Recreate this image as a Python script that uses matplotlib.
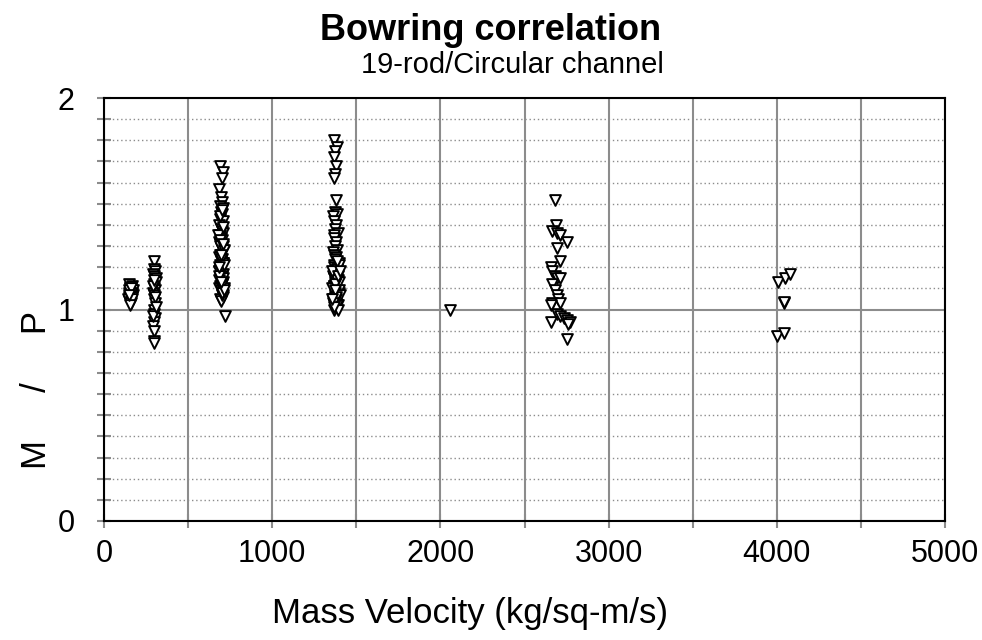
import matplotlib
matplotlib.use("Agg")
import matplotlib.pyplot as plt
from matplotlib.ticker import MultipleLocator

plt.rcParams['font.family'] = ['Liberation Sans', 'DejaVu Sans']

# mass velocity (kg/sq-m/s) and measured/predicted ratio
g1 = [150, 155, 160, 165, 170, 150, 160, 155, 165, 170, 160, 150, 158, 162, 168, 155, 150, 165,
      145, 152, 158, 163, 148, 157, 166, 153, 161, 147]
mp1 = [1.12, 1.10, 1.09, 1.08, 1.07, 1.06, 1.05, 1.04, 1.11, 1.09, 1.06, 1.08, 1.03, 1.05, 1.07, 1.10, 1.04, 1.06,
       1.05, 1.07, 1.08, 1.04, 1.09, 1.03, 1.05, 1.02, 1.10, 1.07]

g2 = [300, 295, 305, 290, 300, 310, 295, 300, 305, 290, 300, 295, 305, 300, 295, 305, 300, 290, 300, 295, 300, 310, 290,
      298, 302, 293, 307]
mp2 = [1.23, 1.19, 1.18, 1.17, 1.16, 1.15, 1.12, 1.10, 1.09, 1.08, 1.07, 1.05, 1.03, 1.00, 0.98, 0.96, 0.94, 0.92, 0.90, 0.85, 0.84, 1.13, 1.11,
       1.14, 1.06, 0.97, 1.01]

g3 = [690, 705, 700, 685, 695, 700, 690, 705, 695, 700, 690, 710, 685, 695, 700, 705, 690, 695,
      700, 685, 690, 705, 695, 700, 710, 690, 685, 700, 695, 705, 690, 700, 695, 685, 710, 700,
      690, 695, 705, 700, 690, 685, 695, 700, 710, 705, 690, 695, 700, 685, 715, 705, 690, 700, 720,
      680, 712, 698, 688, 708, 693, 703, 683, 713, 697, 687, 707, 692, 702, 682, 716, 696, 686, 706]
mp3 = [1.68, 1.65, 1.62, 1.57, 1.53, 1.51, 1.49, 1.48, 1.46, 1.45, 1.43, 1.42, 1.40, 1.38, 1.37, 1.36, 1.35, 1.34,
       1.33, 1.32, 1.31, 1.30, 1.29, 1.28, 1.27, 1.26, 1.25, 1.24, 1.23, 1.22, 1.21, 1.20, 1.19, 1.18, 1.17, 1.16,
       1.15, 1.14, 1.13, 1.12, 1.11, 1.10, 1.09, 1.08, 1.07, 1.06, 1.05, 1.04, 1.12, 1.18, 1.10, 1.22, 1.30, 1.07, 0.97,
       1.35, 1.28, 1.24, 1.19, 1.15, 1.11, 1.08, 1.14, 1.21, 1.26, 1.33, 1.39, 1.44, 1.47, 1.16, 1.09, 1.13, 1.20, 1.31]

g4 = [1370, 1385, 1375, 1365, 1380, 1375, 1370, 1380, 1375, 1385, 1360, 1370, 1380, 1375, 1390, 1365,
      1370, 1380, 1375, 1385, 1360, 1370, 1380, 1375, 1395, 1365, 1370, 1385, 1375, 1380, 1360, 1370,
      1390, 1375, 1385, 1365, 1370, 1380, 1400, 1375, 1385, 1360, 1370, 1380, 1390, 1375, 1365, 1385,
      1370, 1380, 1395, 1375, 1360, 1385, 1370, 1380, 1400, 1375, 1365, 1390,
      1355, 1405, 1378, 1368, 1388, 1358, 1398, 1372, 1382, 1362, 1392, 1376, 1366, 1386, 1402, 1356]
mp4 = [1.80, 1.77, 1.75, 1.72, 1.68, 1.64, 1.62, 1.52, 1.46, 1.45, 1.44, 1.42, 1.40, 1.38, 1.36, 1.35,
       1.34, 1.32, 1.30, 1.28, 1.27, 1.26, 1.25, 1.24, 1.22, 1.21, 1.20, 1.19, 1.18, 1.17, 1.16, 1.15,
       1.14, 1.13, 1.12, 1.11, 1.10, 1.09, 1.08, 1.07, 1.06, 1.05, 1.04, 1.03, 1.02, 1.01, 1.00, 1.19,
       1.15, 1.12, 1.09, 1.06, 1.04, 1.02, 1.11, 1.17, 1.13, 1.08, 1.03, 1.00,
       1.10, 1.07, 1.05, 1.02, 1.14, 1.18, 1.21, 1.12, 1.06, 1.03, 1.16, 1.09, 1.01, 1.23, 1.18, 1.05]

g5 = [2055]
mp5 = [1.00]

g6 = [2680, 2686, 2665, 2694, 2714, 2754, 2694, 2714, 2655, 2665, 2680, 2694, 2714, 2665, 2680, 2694,
      2700, 2665, 2714, 2655, 2694, 2714, 2734, 2754, 2773, 2655, 2760, 2754]
mp6 = [1.52, 1.40, 1.37, 1.36, 1.35, 1.32, 1.29, 1.23, 1.20, 1.18, 1.16, 1.15, 1.15, 1.12, 1.09, 1.07,
       1.05, 1.03, 1.03, 1.02, 0.98, 0.97, 0.96, 0.95, 0.94, 0.94, 0.93, 0.86]

g7 = [4010, 4050, 4080, 4040, 4045, 4000, 4040]
mp7 = [1.13, 1.15, 1.17, 1.03, 1.035, 0.875, 0.89]

fig = plt.figure(figsize=(9.82, 6.4), dpi=100)
ax = fig.add_axes([104 / 982, 1 - 521 / 640, 841 / 982, 423 / 640])

for g, mp in [(g1, mp1), (g2, mp2), (g3, mp3), (g4, mp4), (g5, mp5), (g6, mp6), (g7, mp7)]:
    ax.scatter(g, mp, marker='v', s=60, facecolors='white', edgecolors='black', linewidths=1.4, zorder=3)

ax.set_xlim(0, 5000)
ax.set_ylim(0, 2)
ax.xaxis.set_major_locator(MultipleLocator(1000))
ax.xaxis.set_minor_locator(MultipleLocator(500))
ax.yaxis.set_major_locator(MultipleLocator(1))
ax.yaxis.set_minor_locator(MultipleLocator(0.1))

ax.grid(which='both', axis='x', color='#8c8c8c', linewidth=1.5)
ax.grid(which='major', axis='y', color='#8c8c8c', linewidth=1.5)
ax.grid(which='minor', axis='y', color='#8c8c8c', linestyle=(0, (1, 2)), linewidth=1.0)
ax.set_axisbelow(True)

ax.tick_params(which='both', direction='inout', length=10, width=1.5, color='#8c8c8c', labelsize=22)
ax.tick_params(axis='y', which='major', pad=16)
ax.tick_params(axis='x', which='major', pad=8)
for s in ax.spines.values():
    s.set_color('black')
    s.set_linewidth(1.5)

fig.text(0.5, 1 - 30 / 640, 'Bowring correlation', ha='center', va='center', fontsize=26, fontweight='bold')
fig.text(512 / 982, 1 - 65 / 640, '19-rod/Circular channel', ha='center', va='center', fontsize=21)
fig.text(470 / 982, 1 - 613 / 640, 'Mass Velocity (kg/sq-m/s)', ha='center', va='center', fontsize=25)
fig.text(36 / 982, 1 - 390 / 640, 'M     /     P', ha='center', va='center', fontsize=25, rotation=90)

fig.savefig('out.png', dpi=100)
